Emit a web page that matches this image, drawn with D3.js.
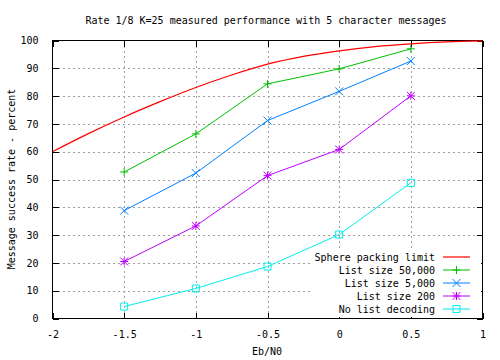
<!DOCTYPE html>
<html><head><meta charset="utf-8">
<script src="https://cdn.jsdelivr.net/npm/d3@7"></script>
<style>
body{margin:0;background:#fff;}
text{font-family:"DejaVu Sans Mono","Liberation Mono",monospace;font-size:10px;fill:#000;}
</style></head>
<body>
<svg id="c" width="500" height="360"></svg>
<script>
const title = "Rate 1/8 K=25 measured performance with 5 character messages";
const xLabel = "Eb/N0";
const yLabel = "Message success rate - percent";
const xTicks = [-2, -1.5, -1, -0.5, 0, 0.5, 1];
const yTicks = [0, 10, 20, 30, 40, 50, 60, 70, 80, 90, 100];
const ebno = [-1.5, -1, -0.5, 0, 0.5];
const sphereX = [-2, -1.75, -1.5, -1.25, -1, -0.75, -0.5, -0.25, 0, 0.25, 0.5, 0.75, 1];
const sphereY = [60, 66.5, 72.5, 78, 83.1, 87.6, 91.5, 94.3, 96.3, 97.8, 98.8, 99.5, 99.9];
const list50000 = [52.7, 66.4, 84.4, 89.8, 97.0];
const list5000 = [38.8, 52.3, 71.2, 81.7, 92.6];
const list200 = [20.5, 33.3, 51.4, 60.8, 80.1];
const noList = [4.3, 10.8, 18.7, 30.2, 48.8];
const seriesNames = ["Sphere packing limit", "List size 50,000", "List size 5,000", "List size 200", "No list decoding"];
const seriesColors = ["#ff0000", "#00c000", "#0080ff", "#c000ff", "#00eeee"];
const seriesMarkers = ["none", "plus", "cross", "star", "square"];

const svg = d3.select("#c");
const L = 52.5, R = 482.5, T = 40.5, B = 318.5;
const x = d3.scaleLinear().domain([-2, 1]).range([L, R]);
const y = d3.scaleLinear().domain([0, 100]).range([B, T]);

// grid
const grid = svg.append("g").attr("stroke", "#a0a0a0").attr("stroke-dasharray", "2,3").attr("shape-rendering", "crispEdges");
xTicks.slice(1, -1).forEach(v => grid.append("line").attr("x1", Math.round(x(v)) + 0.5).attr("x2", Math.round(x(v)) + 0.5).attr("y1", T).attr("y2", B));
yTicks.slice(1, -1).forEach(v => grid.append("line").attr("y1", Math.round(y(v)) + 0.5).attr("y2", Math.round(y(v)) + 0.5).attr("x1", L).attr("x2", R));

// axes with inward ticks, mirrored
const gB = svg.append("g").attr("transform", `translate(0,${B})`)
  .call(d3.axisBottom(x).tickValues(xTicks).tickSize(-6).tickPadding(12).tickFormat(d => d3.format("")(d).replace("−", "-")));
const gT = svg.append("g").attr("transform", `translate(0,${T})`)
  .call(d3.axisTop(x).tickValues(xTicks).tickSize(-6).tickFormat(""));
const gL = svg.append("g").attr("transform", `translate(${L},0)`)
  .call(d3.axisLeft(y).tickValues(yTicks).tickSize(-6).tickPadding(14));
const gR = svg.append("g").attr("transform", `translate(${R},0)`)
  .call(d3.axisRight(y).tickValues(yTicks).tickSize(-6).tickFormat(""));
[gB, gT, gL, gR].forEach(g => {
  g.selectAll("path").remove();
  g.selectAll("line").attr("stroke", "#000").attr("shape-rendering", "crispEdges");
  g.selectAll("text").style("font-family", "'DejaVu Sans Mono',monospace").style("font-size", "10px").attr("fill", "#000");
});
svg.append("rect").attr("x", L).attr("y", T).attr("width", R - L).attr("height", B - T)
  .attr("fill", "none").attr("stroke", "#000").attr("shape-rendering", "crispEdges");

// markers
function marker(g, type, cx, cy, color) {
  const s = 4;
  const p = g.append("path").attr("stroke", color).attr("fill", "none").attr("stroke-width", 1);
  if (type === "plus") p.attr("d", `M${cx - s},${cy}H${cx + s}M${cx},${cy - s}V${cy + s}`);
  else if (type === "cross") p.attr("d", `M${cx - s},${cy - s}L${cx + s},${cy + s}M${cx - s},${cy + s}L${cx + s},${cy - s}`);
  else if (type === "star") p.attr("d", `M${cx - s},${cy}H${cx + s}M${cx},${cy - s}V${cy + s}M${cx - s},${cy - s}L${cx + s},${cy + s}M${cx - s},${cy + s}L${cx + s},${cy - s}`);
  else if (type === "square") p.attr("d", `M${cx - 3.5},${cy - 3.5}h7v7h-7z`);
}

const line = d3.line().x(d => x(d[0])).y(d => y(d[1]));
const clip = svg.append("clipPath").attr("id", "pc").append("rect").attr("x", L).attr("y", T - 1).attr("width", R - L).attr("height", B - T + 1);
const plot = svg.append("g").attr("clip-path", "url(#pc)");
plot.append("path").datum(sphereX.map((v, i) => [v, sphereY[i]])).attr("d", line.curve(d3.curveMonotoneX))
  .attr("fill", "none").attr("stroke", seriesColors[0]).attr("stroke-width", 1.2);
const measured = [list50000, list5000, list200, noList];
measured.forEach((vals, k) => {
  const pts = ebno.map((v, i) => [v, vals[i]]);
  const g = svg.append("g");
  g.append("path").datum(pts).attr("d", d3.line().x(d => x(d[0])).y(d => y(d[1])))
    .attr("fill", "none").attr("stroke", seriesColors[k + 1]).attr("stroke-width", 1);
  pts.forEach(p => marker(g, seriesMarkers[k + 1], x(p[0]), y(p[1]), seriesColors[k + 1]));
});

// legend (opaque)
svg.append("rect").attr("x", 313).attr("y", 249).attr("width", 168).attr("height", 68).attr("fill", "#fff");
seriesNames.forEach((name, i) => {
  const yy = 257 + i * 13;
  svg.append("text").attr("x", 435).attr("y", yy).attr("dy", "0.35em").attr("text-anchor", "end").text(name);
  svg.append("line").attr("x1", 443).attr("x2", 470).attr("y1", yy).attr("y2", yy).attr("stroke", seriesColors[i]).attr("stroke-width", i === 0 ? 1.2 : 1);
  if (seriesMarkers[i] !== "none") marker(svg, seriesMarkers[i], 456.5, yy, seriesColors[i]);
});

// labels
svg.append("text").attr("x", 266).attr("y", 24).attr("text-anchor", "middle").text(title);
svg.append("text").attr("x", 267).attr("y", 355).attr("text-anchor", "middle").text(xLabel);
svg.append("text").attr("transform", "translate(15,179) rotate(-90)").attr("text-anchor", "middle").text(yLabel);
</script>
</body></html>
